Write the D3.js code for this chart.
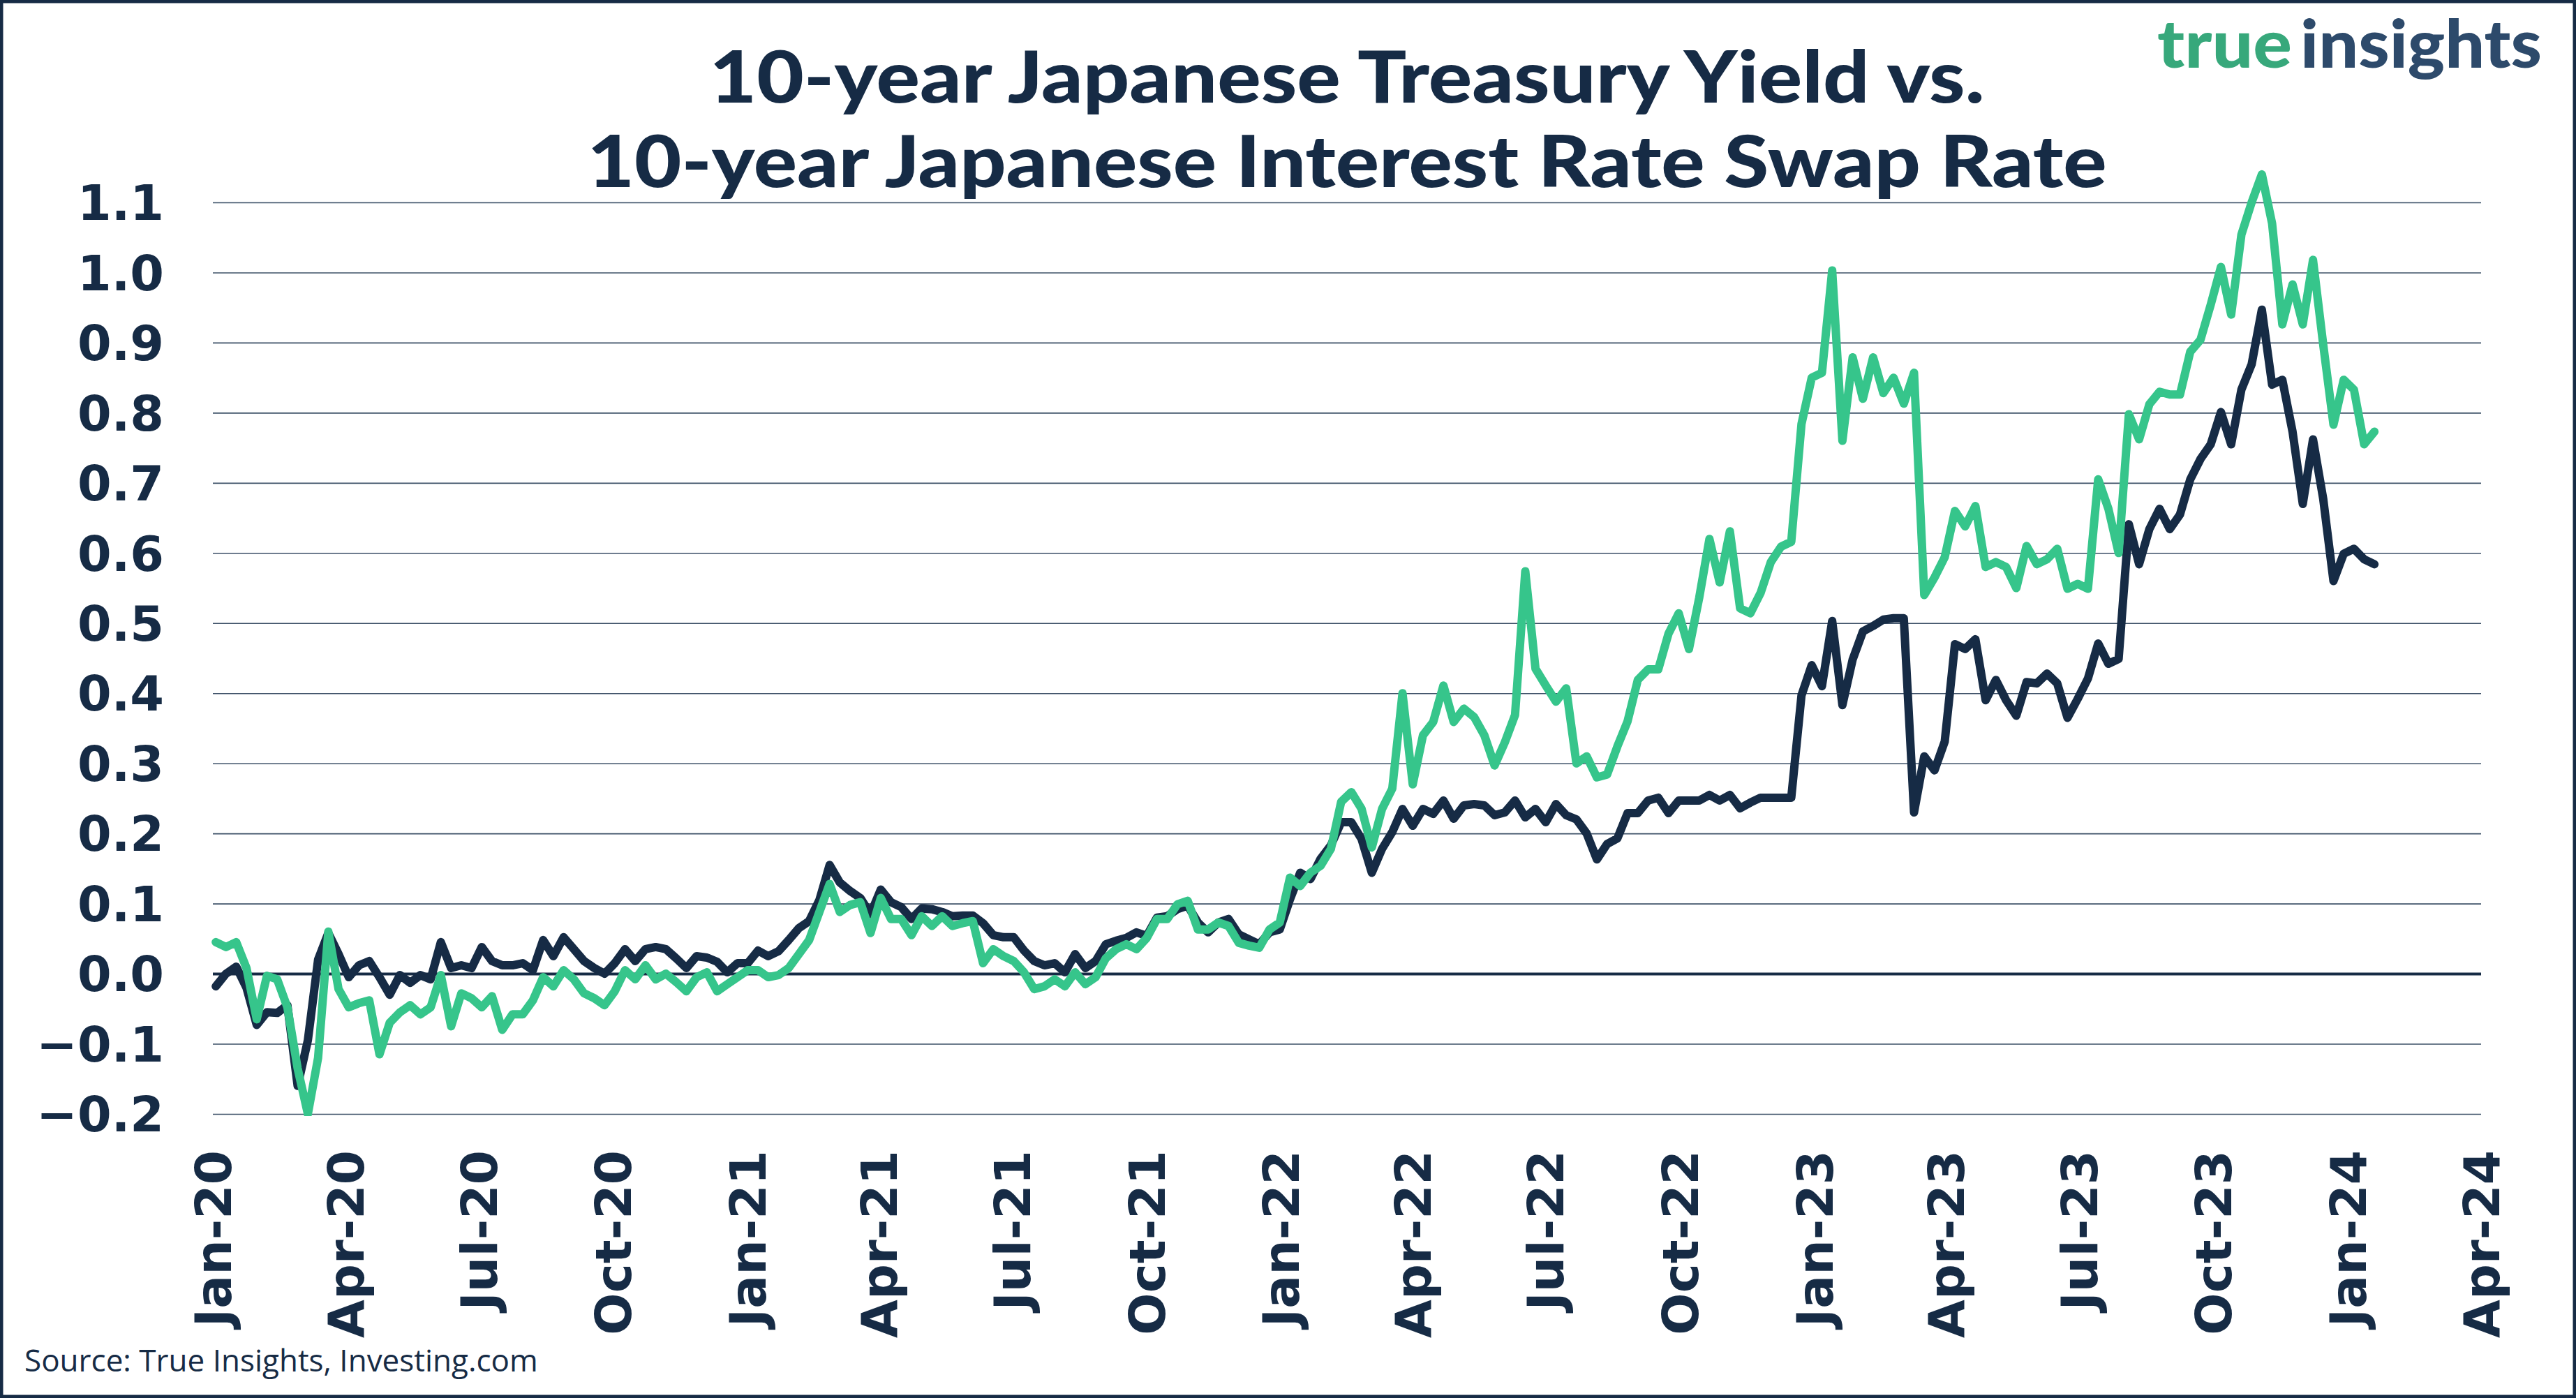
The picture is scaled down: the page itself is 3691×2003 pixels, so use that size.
<!DOCTYPE html>
<html><head><meta charset="utf-8">
<script src="https://cdn.jsdelivr.net/npm/d3@7"></script>
<style>html,body{margin:0;padding:0;background:#fff;} svg{display:block;}</style>
</head><body>
<svg id="chart" width="3691" height="2003"></svg>
<script>
// ---------- data ----------
const titleLines = ["10-year Japanese Treasury Yield vs.", "10-year Japanese Interest Rate Swap Rate"];
const sourceText = "Source: True Insights, Investing.com";
const logoParts = ["true", "insights"];
const startDate = "2020-01-03";   // first weekly observation
const stepDays = 7;               // weekly observations
const xDomain = ["2020-01-01", "2024-04-01"];
const yTicks = [-0.2, -0.1, 0.0, 0.1, 0.2, 0.3, 0.4, 0.5, 0.6, 0.7, 0.8, 0.9, 1.0, 1.1];

// 10-year JGB yield (%)
const jgb10y = [
 -0.018, 0.0, 0.01, -0.02, -0.073, -0.055, -0.056, -0.045, -0.16, -0.095,
 0.02, 0.058, 0.028, -0.005, 0.012, 0.018, -0.005, -0.03, -0.002, -0.013,
 -0.002, -0.008, 0.045, 0.008, 0.012, 0.008, 0.038, 0.018, 0.012, 0.012,
 0.015, 0.005, 0.048, 0.025, 0.052, 0.035, 0.018, 0.008, 0.0, 0.015,
 0.035, 0.018, 0.035, 0.038, 0.035, 0.022, 0.008, 0.025, 0.023, 0.017,
 0.002, 0.015, 0.015, 0.033, 0.025, 0.032, 0.048, 0.065, 0.075, 0.105,
 0.155, 0.13, 0.118, 0.108, 0.085, 0.12, 0.102, 0.095, 0.078, 0.093,
 0.092, 0.088, 0.082, 0.083, 0.083, 0.072, 0.055, 0.052, 0.052, 0.033,
 0.018, 0.012, 0.015, 0.002, 0.028, 0.008, 0.018, 0.042, 0.047, 0.051,
 0.059, 0.054, 0.08, 0.082, 0.092, 0.097, 0.073, 0.059, 0.073, 0.078,
 0.056, 0.049, 0.042, 0.059, 0.063, 0.106, 0.144, 0.135, 0.164, 0.183,
 0.216, 0.216, 0.192, 0.144, 0.178, 0.202, 0.235, 0.211, 0.235, 0.228,
 0.247, 0.221, 0.24, 0.242, 0.24, 0.226, 0.23, 0.247, 0.223, 0.235,
 0.216, 0.242, 0.226, 0.22, 0.2, 0.163, 0.185, 0.193, 0.229, 0.229,
 0.247, 0.251, 0.229, 0.247, 0.247, 0.247, 0.255, 0.247, 0.255, 0.236,
 0.244, 0.251, 0.251, 0.251, 0.251, 0.397, 0.44, 0.41, 0.503, 0.383,
 0.448, 0.488, 0.496, 0.505, 0.507, 0.507, 0.23, 0.31, 0.29, 0.331,
 0.47, 0.463, 0.477, 0.39, 0.419, 0.39, 0.368, 0.416, 0.414, 0.428,
 0.414, 0.365, 0.392, 0.421, 0.471, 0.442, 0.449, 0.641, 0.584, 0.634,
 0.663, 0.634, 0.655, 0.705, 0.734, 0.755, 0.801, 0.755, 0.833, 0.869,
 0.947, 0.84, 0.847, 0.773, 0.67, 0.762, 0.677, 0.56, 0.599, 0.606,
 0.591, 0.584
];

// 10-year JPY interest rate swap rate (%)
const swap10y = [
 0.045, 0.038, 0.045, 0.008, -0.065, -0.003, -0.008, -0.048, -0.135, -0.2,
 -0.12, 0.06, -0.022, -0.048, -0.042, -0.038, -0.115, -0.07, -0.055, -0.045,
 -0.058, -0.048, -0.002, -0.075, -0.028, -0.035, -0.048, -0.032, -0.08, -0.058,
 -0.058, -0.038, -0.005, -0.018, 0.005, -0.008, -0.028, -0.035, -0.045, -0.025,
 0.005, -0.008, 0.012, -0.008, 0.0, -0.012, -0.025, -0.005, 0.002, -0.025,
 -0.015, -0.005, 0.005, 0.005, -0.005, -0.002, 0.008, 0.028, 0.048, 0.088,
 0.128, 0.088, 0.098, 0.102, 0.058, 0.108, 0.078, 0.078, 0.055, 0.082,
 0.068, 0.082, 0.068, 0.072, 0.075, 0.015, 0.035, 0.025, 0.018, 0.002,
 -0.022, -0.018, -0.008, -0.018, 0.002, -0.015, -0.005, 0.022, 0.035, 0.042,
 0.035, 0.051, 0.078, 0.078, 0.099, 0.104, 0.063, 0.063, 0.073, 0.068,
 0.044, 0.04, 0.037, 0.063, 0.073, 0.137, 0.125, 0.144, 0.154, 0.178,
 0.245, 0.259, 0.235, 0.18, 0.235, 0.264, 0.40, 0.27, 0.34, 0.359,
 0.411, 0.359, 0.378, 0.366, 0.34, 0.297, 0.33, 0.369, 0.574, 0.435,
 0.411, 0.388, 0.407, 0.3, 0.31, 0.28, 0.284, 0.324, 0.36, 0.419,
 0.434, 0.434, 0.485, 0.514, 0.463, 0.536, 0.62, 0.558, 0.631, 0.521,
 0.514, 0.543, 0.587, 0.609, 0.616, 0.784, 0.85, 0.857, 1.003, 0.76,
 0.879, 0.82, 0.879, 0.828, 0.85, 0.813, 0.857, 0.54, 0.565, 0.594,
 0.66, 0.638, 0.667, 0.58, 0.587, 0.58, 0.55, 0.61, 0.584, 0.591,
 0.606, 0.549, 0.556, 0.549, 0.705, 0.663, 0.6, 0.798, 0.762, 0.812,
 0.83, 0.826, 0.826, 0.887, 0.904, 0.954, 1.008, 0.94, 1.054, 1.10,
 1.14, 1.07, 0.926, 0.983, 0.926, 1.018, 0.897, 0.783, 0.847, 0.833,
 0.755, 0.773
];

// ---------- drawing ----------
const W = 3691, H = 2003;
const navy = "#162b45", green = "#36c58b";
const svg = d3.select("#chart");
const parse = d3.timeParse("%Y-%m-%d");
const t0 = parse(startDate);
const dates = jgb10y.map((_, i) => d3.timeDay.offset(t0, i * stepDays));

const x = d3.scaleTime().domain(xDomain.map(parse)).range([305, 3555]);
const y = d3.scaleLinear().domain([-0.2, 1.1]).range([1596, 290]);

svg.append("rect").attr("width", W).attr("height", H).attr("fill", "#fff");

// gridlines
const grid = svg.append("g")
  .attr("transform", "translate(305,0)")
  .call(d3.axisLeft(y).tickValues(yTicks).tickSize(-(3555 - 305)).tickFormat(""));
grid.select(".domain").remove();
grid.selectAll(".tick line").attr("stroke", "#3b4f66").attr("stroke-width", 1.6);
grid.selectAll(".tick").filter(d => d === 0).select("line")
  .attr("stroke", navy).attr("stroke-width", 4);

// y labels
svg.append("g").selectAll("text").data(yTicks).join("text")
  .attr("x", 235).attr("y", d => y(d)).attr("dy", "0.36em")
  .attr("text-anchor", "end")
  .attr("font-family", "DejaVu Sans").attr("font-weight", "bold").attr("font-size", 70)
  .attr("fill", navy)
  .text(d => d3.format(".1f")(d));

// x labels
const xTicks = x.ticks(d3.timeMonth.every(3));
svg.append("g").selectAll("text").data(xTicks).join("text")
  .attr("transform", d => `translate(${x(d)},1648) rotate(-90)`)
  .attr("dy", "0.36em")
  .attr("text-anchor", "end")
  .attr("font-family", "DejaVu Sans").attr("font-weight", "bold").attr("font-size", 71)
  .attr("fill", navy)
  .text(d => d3.timeFormat("%b-%y")(d));

// clip
svg.append("clipPath").attr("id", "clip").append("rect")
  .attr("x", 0).attr("y", 0).attr("width", W).attr("height", y(-0.2) + 3);

const line = d3.line().x((d, i) => x(dates[i])).y(d => y(d)).curve(d3.curveLinear);
const plot = svg.append("g").attr("clip-path", "url(#clip)");
plot.append("path").datum(jgb10y).attr("d", line)
  .attr("fill", "none").attr("stroke", navy).attr("stroke-width", 12)
  .attr("stroke-linejoin", "round").attr("stroke-linecap", "round");
plot.append("path").datum(swap10y).attr("d", line)
  .attr("fill", "none").attr("stroke", green).attr("stroke-width", 12)
  .attr("stroke-linejoin", "round").attr("stroke-linecap", "round");

// title
const tl = svg.append("g");
tl.append("text").attr("x", 1930).attr("y", 147).attr("text-anchor", "middle")
  .attr("font-family", "Lato").attr("font-weight", 900).attr("font-size", 102)
  .attr("fill", navy).attr("textLength", 1827).attr("lengthAdjust", "spacingAndGlyphs")
  .text(titleLines[0]);
tl.append("text").attr("x", 1930).attr("y", 268).attr("text-anchor", "middle")
  .attr("font-family", "Lato").attr("font-weight", 900).attr("font-size", 102)
  .attr("fill", navy).attr("textLength", 2177).attr("lengthAdjust", "spacingAndGlyphs")
  .text(titleLines[1]);

// logo
svg.append("text").attr("x", 3091).attr("y", 97)
  .attr("font-family", "Lato").attr("font-weight", 900).attr("font-size", 95)
  .attr("fill", "#37a87b").attr("textLength", 193).attr("lengthAdjust", "spacingAndGlyphs")
  .text(logoParts[0]);
svg.append("text").attr("x", 3296).attr("y", 97)
  .attr("font-family", "Lato").attr("font-weight", 900).attr("font-size", 95)
  .attr("fill", "#2d4a6b").attr("textLength", 346).attr("lengthAdjust", "spacingAndGlyphs")
  .text(logoParts[1]);

// source
svg.append("text").attr("x", 35).attr("y", 1965)
  .attr("font-family", "Open Sans").attr("font-size", 44)
  .attr("fill", navy).text(sourceText);

// frame
svg.append("rect").attr("x", 2).attr("y", 2).attr("width", W - 4).attr("height", H - 4)
  .attr("fill", "none").attr("stroke", navy).attr("stroke-width", 5);
</script>
</body></html>
